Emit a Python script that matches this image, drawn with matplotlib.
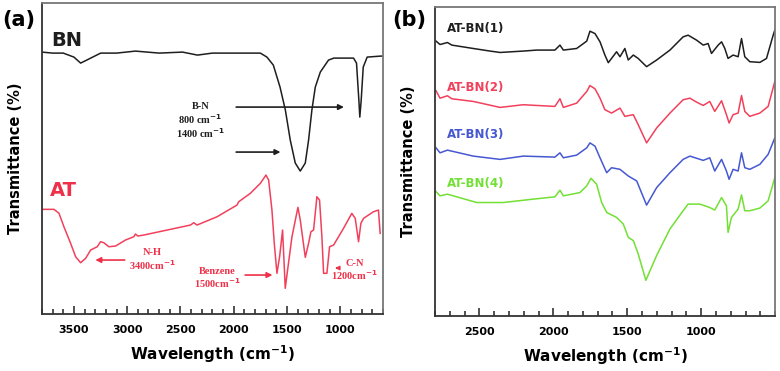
import numpy as np
import matplotlib
matplotlib.use("Agg")
import matplotlib.pyplot as plt
from matplotlib.ticker import MultipleLocator

# ---- panel (a): FTIR of BN and AT (arbitrary transmittance units) ----
bn_wn = [3800, 3700, 3600, 3500, 3437, 3380, 3249, 3100, 2922, 2700, 2480, 2340, 2200,
         2000, 1800, 1750, 1688, 1628, 1565, 1515, 1469, 1422, 1375, 1328, 1297, 1266,
         1234, 1187, 1110, 1060, 875, 847, 825, 816, 803, 784, 747, 622, 600]
bn_t = [262, 261, 261, 257, 251, 254, 261, 261, 263, 261, 262, 259, 261,
        261, 261, 261, 257, 249, 227, 204, 174, 151, 143, 151, 174, 204,
        227, 242, 254, 256, 256, 251, 214, 197, 214, 247, 257, 258, 258]

at_wn = [3796, 3687, 3640, 3594, 3531, 3484, 3437, 3390, 3343, 3281, 3250, 3219, 3172,
         3109, 3016, 2938, 2922, 2900, 2844, 2625, 2406, 2375, 2344, 2156, 1969, 1953,
         1844, 1750, 1697, 1672, 1641, 1619, 1594, 1569, 1541, 1516, 1494, 1453, 1397,
         1375, 1328, 1297, 1275, 1250, 1219, 1194, 1172, 1156, 1125, 1100, 1062, 969,
         891, 859, 828, 806, 781, 688, 641, 625]
at_t = [104.7, 104.7, 100.7, 87.3, 70.7, 57.3, 51.3, 55.7, 64, 67.3, 72.3, 71.3, 67.3,
        68, 74, 77.3, 80, 78, 79, 84, 89, 91.3, 89, 97.3, 109, 112.3,
        120.7, 130.7, 139, 134, 104, 70.7, 40.7, 57.3, 84, 25.7, 44, 77.3, 106.7,
        94, 56.7, 70.7, 82.3, 84, 117.3, 114, 77.3, 40.7, 40.7, 67.3, 69, 85.7,
        100.7, 95.7, 72.3, 90.7, 95.7, 102.3, 104, 80.7]

# ---- panel (b): AT-BN composites ----
b1_wn = [2793, 2766, 2716, 2686, 2541, 2428, 2360, 2203, 2112, 1989, 1955, 1932, 1842,
         1774, 1752, 1718, 1684, 1651, 1628, 1606, 1572, 1549, 1516, 1493, 1459, 1426,
         1369, 1301, 1211, 1122, 1088, 1031, 986, 953, 930, 885, 862, 840, 818, 784,
         750, 727, 705, 671, 603, 558, 513, 502]
b1_t = [276.7, 273.3, 275.3, 272.7, 269.3, 266.7, 265.3, 266.7, 267.7, 267.7, 272.7, 267.7, 269.3,
        276.7, 286.7, 284.3, 276, 262.7, 255, 259.3, 266, 261, 269.3, 257.7, 262.7, 259.3,
        251, 257.7, 267.7, 281, 282.7, 277.7, 272.7, 274.3, 264.3, 272.7, 276, 269.3, 259.3, 262.7,
        261, 279.3, 261, 256, 255.3, 259.3, 282.7, 287.7]

b2_wn = [2793, 2766, 2716, 2686, 2541, 2360, 2203, 1989, 1955, 1932, 1842, 1774, 1752,
         1718, 1684, 1651, 1606, 1549, 1516, 1459, 1426, 1369, 1301, 1211, 1122, 1076,
         1031, 986, 942, 908, 862, 829, 811, 784, 750, 727, 705, 671, 603, 547, 502]
b2_t = [226.7, 219.3, 221.7, 218.7, 216, 210, 212.7, 211, 218.7, 210, 214.3, 226, 232,
        228.7, 219.3, 207.7, 204.3, 209.3, 201, 202.7, 192.7, 174.3, 189.3, 204.3, 217.7, 219.3,
        215.3, 212, 216, 206, 216.7, 202.7, 194.3, 202.7, 204.3, 222, 206, 201, 204.3, 211, 236]

b3_wn = [2793, 2766, 2716, 2541, 2360, 2203, 1989, 1955, 1932, 1842, 1774, 1752, 1718,
         1684, 1639, 1606, 1549, 1493, 1436, 1369, 1301, 1211, 1122, 1076, 986, 942,
         908, 862, 829, 811, 784, 750, 727, 705, 671, 603, 547, 502]
b3_t = [169.3, 164.3, 167, 161, 157.7, 161, 160, 164.3, 159.3, 162, 169.3, 174.3, 171,
        159.3, 144.3, 149.3, 147.7, 141, 136, 111.7, 129.3, 144.3, 157.7, 161, 156.7, 159.3,
        146, 157.7, 146, 137.7, 147.7, 146, 164.3, 149.3, 147.7, 152.7, 162.7, 179.3]

b4_wn = [2793, 2766, 2716, 2518, 2338, 2135, 1989, 1955, 1932, 1820, 1774, 1745, 1707,
         1673, 1639, 1572, 1527, 1493, 1459, 1426, 1374, 1301, 1211, 1122, 1088, 1009,
         942, 908, 862, 829, 818, 795, 750, 727, 705, 671, 603, 547, 502]
b4_t = [125.3, 121, 122.7, 114.3, 114.3, 117.7, 120, 126.7, 121, 124.3, 131, 138.7, 132.7,
        114.3, 104.3, 99.3, 92.7, 79.3, 76, 62.7, 36, 61, 87.7, 106, 112.7, 112.7,
        109.3, 106.7, 119.3, 111, 84.3, 99.3, 107.7, 122, 106, 106, 108.7, 116, 139.3]

b_labels = ["AT-BN(1)", "AT-BN(2)", "AT-BN(3)", "AT-BN(4)"]
b_label_y = [289, 230, 183, 133]

a_ticks = [3500, 3000, 2500, 2000, 1500, 1000]
b_ticks = [2500, 2000, 1500, 1000]

BLACK = "#1e1e1e"
RED = "#f2405c"
TXT_RED = "#ee3048"
BLUE = "#4658d0"
GREEN = "#72e034"

plt.rcParams["font.family"] = ["DejaVu Sans"]
plt.rcParams["mathtext.default"] = "bf"

fig = plt.figure(figsize=(7.8, 3.71), dpi=100)
ax1 = fig.add_axes([0.0538, 0.1536, 0.437, 0.838])
ax2 = fig.add_axes([0.5577, 0.148, 0.436, 0.833])


def style(ax, lo, hi, ticks):
    ax.set_xlim(lo, hi)
    ax.set_ylim(0, 311)
    ax.set_yticks([])
    ax.set_xticks(ticks)
    ax.xaxis.set_minor_locator(MultipleLocator(100))
    ax.tick_params(axis="x", which="major", direction="in", length=6, width=1.2,
                   color="#333333", labelsize=8, pad=8)
    ax.tick_params(axis="x", which="minor", direction="in", length=3.5, width=1.2,
                   color="#333333")
    for lab in ax.get_xticklabels():
        lab.set_fontweight("bold")
    for side, sp in ax.spines.items():
        sp.set_color("#777777" if side in ("top", "right") else "#333333")
        sp.set_linewidth(1.3)
    ax.set_xlabel("Wavelength (cm$^{-1}$)", fontsize=11, fontweight="bold", labelpad=6)
    ax.set_ylabel("Transmittance (%)", fontsize=10.5, fontweight="bold", labelpad=14)


style(ax1, 3800, 600, a_ticks)
style(ax2, 2800, 500, b_ticks)

# panel (a)
ax1.plot(bn_wn, bn_t, color=BLACK, lw=1.1)
ax1.plot(at_wn, at_t, color=RED, lw=1.1)
ax1.text(3568, 274, "BN", color=BLACK, fontsize=14, fontweight="bold", ha="center", va="center")
ax1.text(3597, 124, "AT", color=TXT_RED, fontsize=14, fontweight="bold", ha="center", va="center")

serif = dict(family="Liberation Serif", fontweight="bold", fontsize=7.5, ha="center", va="center")
ax1.text(2313, 208, "B-N", color=BLACK, **serif)
ax1.text(2313, 195, "800 cm$^{-1}$", color=BLACK, **serif)
ax1.text(2313, 181, "1400 cm$^{-1}$", color=BLACK, **serif)
arr = dict(arrowstyle="-|>", lw=1.2, mutation_scale=8)
ax1.annotate("", xy=(939, 207), xytext=(2003, 207), arrowprops=dict(color=BLACK, **arr))
ax1.annotate("", xy=(1535, 162), xytext=(2003, 162), arrowprops=dict(color=BLACK, **arr))

ax1.text(2761, 62, "N-H", color=TXT_RED, **serif)
ax1.text(2761, 49, "3400cm$^{-1}$", color=TXT_RED, **serif)
ax1.annotate("", xy=(3325, 54), xytext=(2997, 54), arrowprops=dict(color=TXT_RED, **arr))
ax1.text(2155, 43, "Benzene", color=TXT_RED, **serif)
ax1.text(2155, 31, "1500cm$^{-1}$", color=TXT_RED, **serif)
ax1.annotate("", xy=(1610, 39), xytext=(1919, 39), arrowprops=dict(color=TXT_RED, **arr))
ax1.text(864, 51, "C-N", color=TXT_RED, **serif)
ax1.text(864, 39, "1200cm$^{-1}$", color=TXT_RED, **serif)
ax1.annotate("", xy=(1075, 46), xytext=(995, 46),
             arrowprops=dict(color=TXT_RED, arrowstyle="-|>", lw=1, mutation_scale=6))

# panel (b)
series = [(b1_wn, b1_t, BLACK), (b2_wn, b2_t, RED), (b3_wn, b3_t, BLUE), (b4_wn, b4_t, GREEN)]
for (wn, t, c), name, ly in zip(series, b_labels, b_label_y):
    ax2.plot(wn, t, color=c, lw=1.1)
    ax2.text(2718, ly, name, color=c, fontsize=8.5, fontweight="bold", ha="left", va="center")

fig.text(0.003, 0.945, "(a)", fontsize=15, fontweight="bold", ha="left", va="center")
fig.text(0.503, 0.945, "(b)", fontsize=15, fontweight="bold", ha="left", va="center")

fig.savefig("out.png", dpi=100)
